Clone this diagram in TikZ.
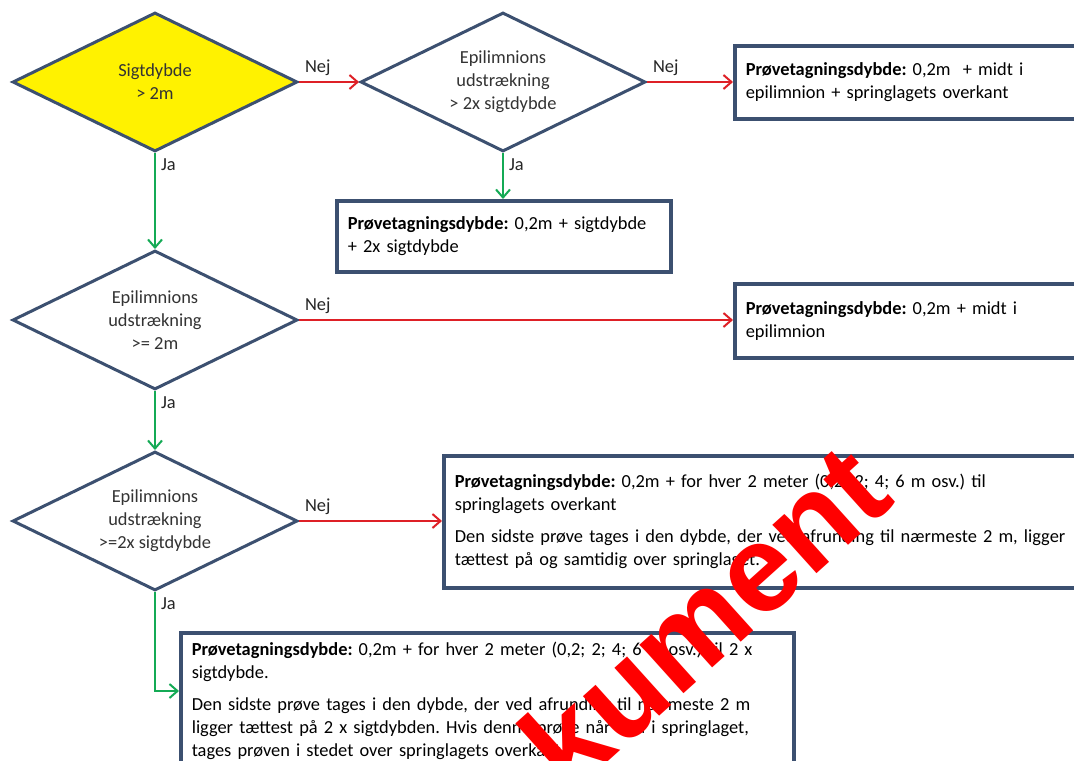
\documentclass[tikz,border=0pt]{standalone}
\usepackage{fontspec}
\setmainfont{Carlito}
\newfontfamily\markfont{Liberation Sans}
\usetikzlibrary{shapes.geometric,arrows.meta}
\definecolor{kant}{RGB}{60,80,112}
\definecolor{nejrod}{RGB}{222,32,38}
\definecolor{jagron}{RGB}{20,170,85}
\tikzset{
  valg/.style={diamond, aspect=2, draw=kant, line width=1.5pt, minimum width=142.5pt, minimum height=69.5pt,
    inner sep=0pt, align=center, fill=white, text=black!80},
  boks/.style={draw=kant, line width=1.8pt, anchor=north west, align=left, inner xsep=5.5pt, fill=white},
  nej/.style={draw=nejrod, line width=1pt, -{Straight Barb[length=4pt,width=7pt]}},
  ja/.style={draw=jagron, line width=1pt, -{Straight Barb[length=4pt,width=7pt]}},
  svar/.style={text=black!85, inner sep=2.5pt}
}
\begin{document}
\frenchspacing
\begin{tikzpicture}[x=0.5pt,y=-0.5pt,font=\fontsize{9.2}{11.5}\selectfont]
  \useasboundingbox (0,0) rectangle (1074,760);
  \clip (0,0) rectangle (1074,760);
  \fill[white] (0,0) rectangle (1074,760);

  \node[valg, fill=yellow] (sigt) at (155,82) {Sigtdybde\\ > 2m};
  \node[valg] (epiA) at (503,82) {Epilimnions\\udstrækning\\ > 2x sigtdybde};
  \node[valg] (epiB) at (155,320) {Epilimnions\\udstrækning\\>= 2m};
  \node[valg] (epiC) at (155,521) {Epilimnions\\udstrækning\\>=2x sigtdybde};

  \node[boks, text width=175pt, minimum height=36.5pt] (provA) at (733,44)
    {\textbf{Prøvetagningsdybde:} 0,2m~ + midt i\\epilimnion + springlagets overkant};
  \node[boks, text width=156pt, minimum height=35.5pt] (provB) at (335,199)
    {\textbf{Prøvetagningsdybde:} 0,2m + sigtdybde\\+ 2x sigtdybde};
  \node[boks, text width=175pt, minimum height=37pt] (provC) at (733,282)
    {\textbf{Prøvetagningsdybde:} 0,2m + midt i\\epilimnion};
  \node[boks, text width=318pt, minimum height=66pt] (provD) at (442,454)
    {\textbf{Prøvetagningsdybde:} 0,2m + for hver 2 meter (0,2; 2; 4; 6 m osv.) til\\
     springlagets overkant\\[4.5pt]
     Den sidste prøve tages i den dybde, der ved afrunding til nærmeste 2 m, ligger\\
     tættest på og samtidig over springlaget.};
  \node[boks, text width=295.5pt, inner ysep=4.5pt, text depth=70pt] (provE) at (179,631)
    {\textbf{Prøvetagningsdybde:} 0,2m + for hver 2 meter (0,2; 2; 4; 6 m osv.) til 2 x\\
     sigtdybde.\\[4.5pt]
     Den sidste prøve tages i den dybde, der ved afrunding til nærmeste 2 m\\
     ligger tættest på 2 x sigtdybden. Hvis denne prøve når ned i springlaget,\\
     tages prøven i stedet over springlagets overkant.};

  \draw[nej] (sigt.east) -- node[svar, pos=0, above right] {Nej} (epiA.west);
  \draw[nej] (epiA.east) -- node[svar, pos=0, above right] {Nej} (epiA.east -| provA.west);
  \draw[ja] (epiA.south) -- node[svar, pos=0, below right] {Ja} (epiA.south |- provB.north);
  \draw[ja] (sigt.south) -- node[svar, pos=0, below right] {Ja} (epiB.north);
  \draw[nej] (epiB.east) -- node[svar, pos=0, above right] {Nej} (epiB.east -| provC.west);
  \draw[ja] (epiB.south) -- node[svar, pos=0, below right] {Ja} (epiC.north);
  \draw[nej] (epiC.east) -- node[svar, pos=0, above right] {Nej} (epiC.east -| provD.west);
  \draw[ja] (epiC.south) |- node[svar, pos=0, below right] {Ja} ([yshift=-30pt]provE.north west);

  \node[text=red, font=\markfont\bfseries\fontsize{62}{62}\selectfont, rotate=42] (merke) at (704,616) {kument};
\end{tikzpicture}
\end{document}
